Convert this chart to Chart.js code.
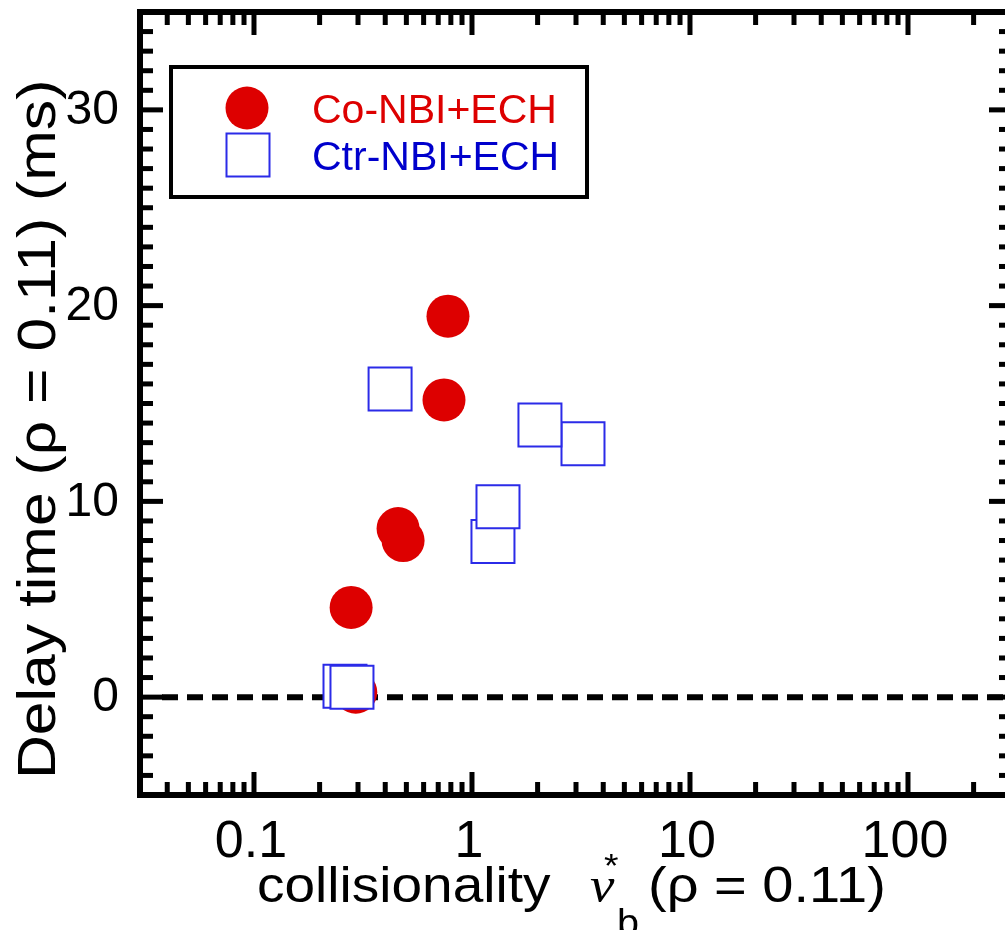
<!DOCTYPE html>
<html><head><meta charset="utf-8">
<script src="https://cdn.jsdelivr.net/npm/chart.js@4.4.1/dist/chart.umd.min.js"></script>
<style>
html,body{margin:0;padding:0;background:#fff;overflow:hidden;}
#wrap{position:absolute;left:0;top:0;width:1020px;height:930px;}
</style></head><body>
<div id="wrap"><canvas id="c" width="1020" height="930"></canvas></div>
<script>
// ---- data ----
const coNu     = [0.776, 0.744, 0.458, 0.483, 0.279, 0.293];
const coDelay  = [19.46, 15.18, 8.61, 8.0, 4.58, 0.25];
const ctrNu    = [0.421, 3.23, 2.05, 1.248, 1.316, 0.2615, 0.2815];
const ctrDelay = [15.74, 12.94, 13.9, 7.95, 9.73, 0.56, 0.51];
const xTickValues = [0.1, 1, 10, 100];
const xTickLabels = ['0.1', '1', '10', '100'];
const yTickValues = [0, 10, 20, 30];
const yTickLabels = ['0', '10', '20', '30'];
const seriesNames = ['Co-NBI+ECH', 'Ctr-NBI+ECH'];
const xTitle = ['collisionality ', 'ν', '*', 'b', '(ρ = 0.11)'];
const yTitle = 'Delay time (ρ = 0.11) (ms)';
const xMin = 0.03, xMax = 300, yMin = -5, yMax = 35;

const RED = '#dd0000', BLUE_LINE = '#2b2be8', BLUE_TEXT = '#0000cc';
const FONT = "'Liberation Sans', Arial, Helvetica, sans-serif";

Chart.defaults.font.family = FONT;

const framePlugin = {
  id: 'frame',
  beforeDatasetsDraw(chart) {
    const {ctx, chartArea: a, scales: {y}} = chart;
    const y0 = y.getPixelForValue(0);
    ctx.save();
    ctx.strokeStyle = '#000';
    ctx.lineWidth = 6;
    ctx.setLineDash([16, 9]);
    ctx.beginPath();
    ctx.moveTo(a.left + 22, y0);
    ctx.lineTo(a.right, y0);
    ctx.stroke();
    ctx.restore();
  },
  afterDatasetsDraw(chart) {
    const {ctx, chartArea: a, scales: {x, y}} = chart;
    ctx.save();
    ctx.fillStyle = '#000';
    const TW = 5, MIN = 13, MAJ = 23;
    // y ticks (left & right)
    for (let v = yMin + 1; v < yMax; v++) {
      const py = y.getPixelForValue(v);
      const len = (v % 10 === 0) ? MAJ : MIN;
      ctx.fillRect(a.left, py - TW / 2, len, TW);
      ctx.fillRect(a.right - len, py - TW / 2, len, TW);
    }
    // x ticks (bottom & top)
    for (let d = -2; d <= 2; d++) {
      for (let k = 1; k <= 9; k++) {
        const v = k * Math.pow(10, d);
        if (v <= xMin * 1.0001 || v >= xMax * 0.9999) continue;
        const px = x.getPixelForValue(v);
        const len = (k === 1) ? MAJ : MIN;
        ctx.fillRect(px - TW / 2, a.bottom - len, TW, len);
        ctx.fillRect(px - TW / 2, a.top, TW, len);
      }
    }
    // frame
    ctx.strokeStyle = '#000';
    ctx.lineWidth = 6;
    ctx.strokeRect(a.left, a.top, a.right - a.left, a.bottom - a.top);

    // tick labels
    ctx.fillStyle = '#000';
    ctx.font = '48px ' + FONT;
    ctx.textAlign = 'right'; ctx.textBaseline = 'middle';
    yTickValues.forEach((v, i) => ctx.fillText(yTickLabels[i], a.left - 21, y.getPixelForValue(v) + 1));
    ctx.font = '52px ' + FONT;
    ctx.textAlign = 'center'; ctx.textBaseline = 'alphabetic';
    xTickValues.forEach((v, i) => ctx.fillText(xTickLabels[i], x.getPixelForValue(v) - 3, 857));

    // legend
    ctx.fillStyle = '#fff';
    ctx.fillRect(171, 67, 416, 130);
    ctx.strokeStyle = '#000';
    ctx.lineWidth = 4;
    ctx.strokeRect(171, 67, 416, 130);
    ctx.fillStyle = RED;
    ctx.beginPath(); ctx.arc(247, 108, 21.5, 0, Math.PI * 2); ctx.fill();
    ctx.fillStyle = '#fff';
    ctx.strokeStyle = BLUE_LINE; ctx.lineWidth = 2;
    ctx.fillRect(226.5, 133.5, 43, 43);
    ctx.strokeRect(226.5, 133.5, 43, 43);
    ctx.font = '41px ' + FONT;
    ctx.textAlign = 'left'; ctx.textBaseline = 'alphabetic';
    ctx.fillStyle = RED; ctx.fillText(seriesNames[0], 312, 123);
    ctx.fillStyle = BLUE_TEXT; ctx.fillText(seriesNames[1], 312, 170);

    // y title
    ctx.fillStyle = '#000';
    ctx.save();
    ctx.translate(55, 779);
    ctx.rotate(-Math.PI / 2);
    ctx.scale(1.145, 1);
    ctx.font = '53px ' + FONT;
    ctx.fillText(yTitle, 0, 0);
    ctx.restore();

    // x title
    const part = (txt, font, px, py, s) => {
      ctx.save(); ctx.translate(px, py); ctx.scale(s, 1);
      ctx.font = font; ctx.fillText(txt, 0, 0); ctx.restore();
    };
    part(xTitle[0], '50px ' + FONT, 257, 902, 1.1);
    part(xTitle[1], "italic 50px 'Liberation Serif', serif", 590, 902, 1.1);
    part(xTitle[2], '34px ' + FONT, 604, 877, 1.1);
    part(xTitle[3], '36px ' + FONT, 617, 935, 1.1);
    part(xTitle[4], '50px ' + FONT, 648, 902, 1.12);
    ctx.restore();
  }
};

new Chart(document.getElementById('c'), {
  type: 'scatter',
  data: {
    datasets: [
      {
        label: seriesNames[0],
        data: coNu.map((v, i) => ({x: v, y: coDelay[i]})),
        pointStyle: 'circle', pointRadius: 21.5,
        backgroundColor: RED, borderColor: RED, borderWidth: 0,
        order: 2
      },
      {
        label: seriesNames[1],
        data: ctrNu.map((v, i) => ({x: v, y: ctrDelay[i]})),
        pointStyle: 'rect', pointRadius: 30.4,
        backgroundColor: '#ffffff', borderColor: BLUE_LINE, borderWidth: 2,
        order: 1
      }
    ]
  },
  options: {
    responsive: false,
    animation: false,
    events: [],
    layout: {autoPadding: false, padding: {left: 0, top: 12, right: 8, bottom: 0}},
    plugins: {legend: {display: false}, tooltip: {enabled: false}},
    scales: {
      x: {
        type: 'logarithmic', min: xMin, max: xMax,
        afterBuildTicks: s => { s.ticks = xTickValues.map(v => ({value: v})); },
        afterFit: s => { s.height = 135; },
        ticks: {display: false},
        grid: {display: false, drawTicks: false},
        border: {display: false}
      },
      y: {
        type: 'linear', min: yMin, max: yMax,
        afterBuildTicks: s => { s.ticks = yTickValues.map(v => ({value: v})); },
        afterFit: s => { s.width = 140; },
        ticks: {display: false},
        grid: {display: false, drawTicks: false},
        border: {display: false}
      }
    }
  },
  plugins: [framePlugin]
});
</script>
</body></html>
